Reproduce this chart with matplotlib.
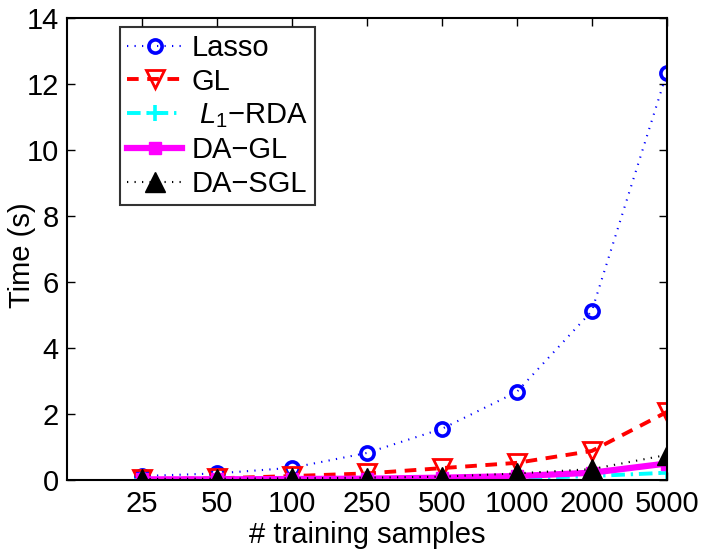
import matplotlib
matplotlib.use("Agg")
import matplotlib.pyplot as plt
import numpy as np

plt.rcParams['font.family'] = ['Liberation Sans', 'DejaVu Sans']
plt.rcParams['mathtext.fontset'] = 'custom'
plt.rcParams['mathtext.rm'] = 'Liberation Sans'
plt.rcParams['mathtext.it'] = 'Liberation Sans:italic'

categories = ['25', '50', '100', '250', '500', '1000', '2000', '5000']
lasso = [0.12, 0.2, 0.37, 0.82, 1.55, 2.67, 5.12, 12.33]
gl = [0.03, 0.05, 0.12, 0.2, 0.36, 0.52, 0.88, 2.06]
l1rda = [0.01, 0.01, 0.02, 0.02, 0.03, 0.05, 0.12, 0.22]
dagl = [0.02, 0.02, 0.03, 0.04, 0.07, 0.12, 0.22, 0.5]
dasgl = [0.03, 0.04, 0.05, 0.07, 0.1, 0.2, 0.33, 0.76]
yticks = [0, 2, 4, 6, 8, 10, 12, 14]

x = np.arange(1, len(categories) + 1)

fig = plt.figure(figsize=(7.01, 5.53), dpi=100)
ax = fig.add_axes([0.0956, 0.132, 0.8555, 0.835])

ax.plot(x, lasso, linestyle=(0, (0.6, 3.0)), color='#0000ff', lw=1.5, marker='o', ms=9.5,
        mfc='none', mec='#0000ff', mew=2.6, label='Lasso')
ax.plot(x, gl, linestyle=(0, (3.0, 2.2)), color='#ff0000', lw=2.8, marker='v', ms=13,
        mfc='none', mec='#ff0000', mew=2.0, label='GL')
ax.plot(x, l1rda, linestyle=(0, (3.5, 1.5, 0.6, 1.5)), color='#00ffff', lw=2.8, marker='+', ms=11,
        mew=2.6, label=r' $L_1$−RDA')
ax.plot(x, dagl, linestyle='-', color='#ff00ff', lw=4.5, marker='s', ms=9,
        mfc='#ff00ff', mec='#ff00ff', label='DA−GL')
ax.plot(x, dasgl, linestyle=(0, (0.6, 3.0)), color='black', lw=1.5, marker='^', ms=14,
        mfc='black', mec='black', label='DA−SGL')

ax.set_xlim(0, len(categories))
ax.set_ylim(0, 14)
ax.set_xticks(x)
ax.set_xticklabels(categories)
ax.set_yticks(yticks)
ax.tick_params(direction='in', length=6, width=1, top=True, right=True,
               labelsize=21, pad=7)
ax.tick_params(axis='y', pad=6)
for s in ax.spines.values():
    s.set_linewidth(1.5)
ax.set_xlabel('# training samples', fontsize=21, labelpad=2)
ax.set_ylabel('Time (s)', fontsize=21)
ax.yaxis.set_label_coords(-0.052, 0.487)

leg = ax.legend(loc='upper left', bbox_to_anchor=(0.088, 0.982), fontsize=21,
                frameon=True, fancybox=False, edgecolor='black', handlelength=1.9,
                borderpad=0.25, labelspacing=0.2, handletextpad=0.3,
                borderaxespad=0.0)
leg.get_frame().set_linewidth(1.5)

fig.savefig('out.png', dpi=100)
